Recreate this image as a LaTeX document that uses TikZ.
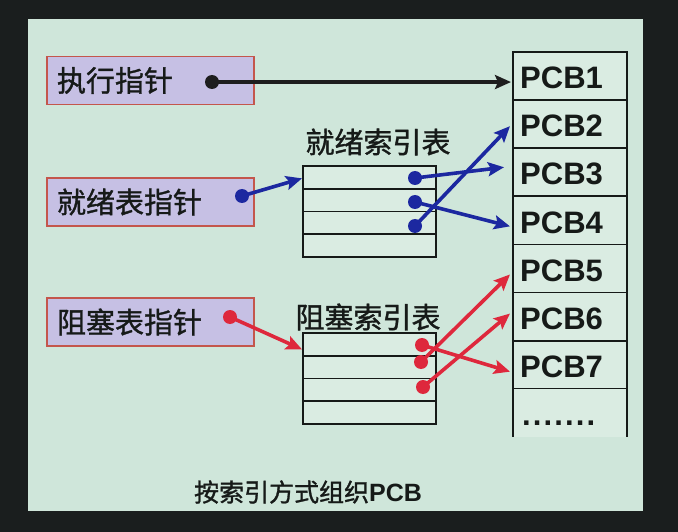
\documentclass[tikz,border=0pt]{standalone}
\usepackage{fontspec}
\setmainfont{Liberation Sans}
\newfontfamily\cjk{Noto Sans CJK SC}[FakeBold=1.2]
\usetikzlibrary{arrows.meta,calc}
\definecolor{outerbg}{RGB}{26,30,30}
\definecolor{slidebg}{RGB}{207,230,218}
\definecolor{cellbg}{RGB}{218,236,226}
\definecolor{boxfill}{RGB}{198,192,228}
\definecolor{boxline}{RGB}{196,86,76}
\definecolor{tabline}{RGB}{22,26,24}
\definecolor{ptrblack}{RGB}{30,30,30}
\definecolor{ptrblue}{RGB}{28,40,160}
\definecolor{ptrred}{RGB}{222,40,60}
\tikzset{
  ptrbox/.style={draw=boxline, line width=1.3pt, fill=boxfill, minimum width=207pt,
    minimum height=48pt, text width=187pt, inner xsep=10pt, align=left, text=tabline,
    font=\cjk\fontsize{29}{31}\selectfont},
  pcbrow/.style={draw=tabline, line width=1.8pt, fill=cellbg, minimum width=114pt,
    minimum height=48.1pt, inner sep=0pt, outer sep=0pt},
  pcbtext/.style={anchor=west, inner sep=0pt, font=\bfseries\fontsize{31}{33}\selectfont, text=tabline},
  idxrow/.style={draw=tabline, line width=1.8pt, fill=cellbg, minimum width=133pt,
    minimum height=22.75pt, inner sep=0pt, outer sep=0pt},
  idxtitle/.style={font=\cjk\fontsize{29}{31}\selectfont, text=tabline, inner sep=0pt},
  dotb/.style={circle, fill=#1, minimum size=14pt, inner sep=0pt},
  ptrarrow/.style={draw=#1, line width=3.6pt, -{Stealth[length=16pt,width=14pt,inset=3pt]}},
}
\begin{document}
\begin{tikzpicture}[x=1pt,y=-1pt]
\useasboundingbox (0,0) rectangle (678,532);
\fill[outerbg] (0,0) rectangle (678,532);
\fill[slidebg] (28,19) rectangle (643,511);

% pointer boxes
\node[ptrbox] (exec) at (150.5,80.5) {执行指针};
\node[ptrbox] (ready) at (150.5,202) {就绪表指针};
\node[ptrbox] (block) at (150.5,322) {阻塞表指针};

% PCB table
\foreach \i in {1,...,7} {
  \node[pcbrow] (pcb\i) at (570,{52+48.1*(\i-0.5)}) {};
  \node[pcbtext] (pcbt\i) at ($(pcb\i.west)+(7,2)$) {PCB\i};
}
\node[minimum width=114pt, minimum height=48.1pt, inner sep=0pt, fill=cellbg] (pcb8) at (570,{52+48.1*7.5}) {};
\draw[tabline, line width=1.8pt] (pcb8.north west) -- (pcb8.south west);
\draw[tabline, line width=1.8pt] (pcb8.north east) -- (pcb8.south east);
\node[pcbtext, font=\bfseries\fontsize{31}{33}\selectfont\addfontfeature{LetterSpace=7}] (more) at ($(pcb8.west)+(9,10)$) {.......};

% ready index table
\foreach \i in {1,...,4} {
  \node[idxrow] (rr\i) at (369.5,{166+22.75*(\i-0.5)}) {};
}
\node[idxtitle] (rtitle) at (378,142) {就绪索引表};

% blocked index table
\foreach \i in {1,...,4} {
  \node[idxrow] (br\i) at (369.5,{333+22.75*(\i-0.5)}) {};
}
\node[idxtitle] (btitle) at (368,317) {阻塞索引表};

% arrow tip coordinates
\coordinate (t1) at ($(pcb1.west)+(-2,6)$);
\coordinate (t2) at ($(pcb2.west)+(-3,2)$);
\coordinate (t3) at ($(pcb3.west)+(-9,-5)$);
\coordinate (t4) at ($(pcb4.west)+(-3,6)$);
\coordinate (t5) at ($(pcb5.west)+(-3,6)$);
\coordinate (t6) at ($(pcb6.west)+(-3,-3)$);
\coordinate (t7) at ($(pcb7.west)+(-3,7)$);
\coordinate (rin) at ($(rr1.west)+(-1,1)$);
\coordinate (bin) at ($(br1.west)+(-1,5)$);

% dots
\node[dotb=ptrblack] (edot) at (212,82) {};
\node[dotb=ptrblue] (rdot) at (242,196) {};
\node[dotb=ptrred] (bdot) at (230,317) {};
\node[dotb=ptrblue] (rd1) at (415,178) {};
\node[dotb=ptrblue] (rd2) at (415,202) {};
\node[dotb=ptrblue] (rd3) at (415,226) {};
\node[dotb=ptrred] (bd1) at (422,345) {};
\node[dotb=ptrred] (bd2) at (421,362) {};
\node[dotb=ptrred] (bd3) at (423,387) {};

% connectors
\draw[ptrarrow=ptrblack] (edot.center) -- (t1);
\draw[ptrarrow=ptrblue] (rdot.center) -- (rin);
\draw[ptrarrow=ptrred] (bdot.center) -- (bin);
\draw[ptrarrow=ptrblue] (rd1.center) -- (t3);
\draw[ptrarrow=ptrblue] (rd2.center) -- (t4);
\draw[ptrarrow=ptrblue] (rd3.center) -- (t2);
\draw[ptrarrow=ptrred] (bd1.center) -- (t7);
\draw[ptrarrow=ptrred] (bd2.center) -- (t5);
\draw[ptrarrow=ptrred] (bd3.center) -- (t6);

% caption
\node[inner sep=0pt, text=tabline] (cap) at (308,492) {{\cjk\fontsize{25}{27}\selectfont 按索引方式组织}{\bfseries\fontsize{25}{27}\selectfont PCB}};
\end{tikzpicture}
\end{document}
